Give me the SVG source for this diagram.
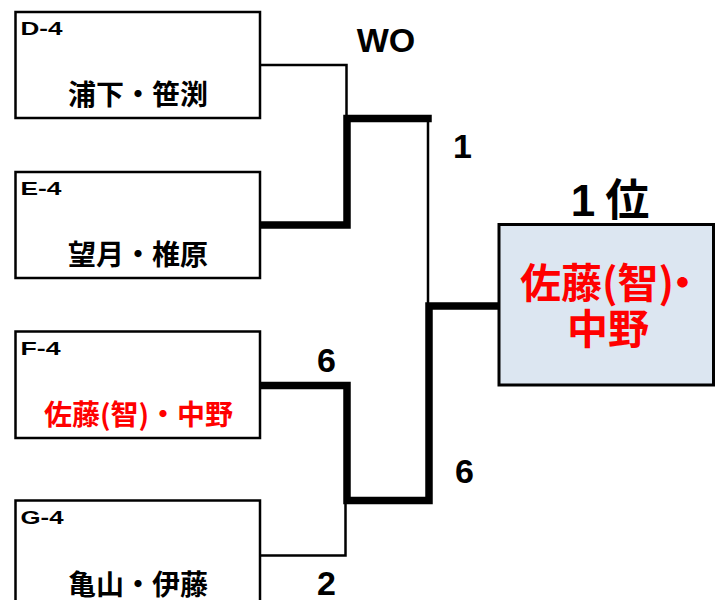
<svg xmlns="http://www.w3.org/2000/svg" width="723" height="600" viewBox="0 0 723 600">
<style>
.box{fill:#FFFFFF;stroke:#000000;stroke-width:2.5}
.champ{fill:#DCE6F1;stroke:#000000;stroke-width:3}
.lbl{font-family:"Liberation Sans","Noto Sans CJK JP",sans-serif;font-weight:bold;font-size:18px;fill:#000000}
.name{font-family:"Noto Sans CJK JP","Noto Sans CJK SC",sans-serif;font-weight:bold;font-size:28px;text-anchor:middle;fill:#000000}
.win{fill:#FF0000}
.score{font-family:"Liberation Sans","Noto Sans CJK JP",sans-serif;font-weight:bold;font-size:34px;text-anchor:middle;fill:#000000}
.thin{fill:none;stroke:#000000;stroke-width:2.5}
.thick{fill:none;stroke:#000000;stroke-width:7.5;stroke-linecap:square;stroke-linejoin:miter}
.big{font-family:"Noto Sans CJK JP","Noto Sans CJK SC",sans-serif;font-weight:bold;font-size:41px;fill:#FF0000}
.rank{font-family:"Liberation Sans","Noto Sans CJK JP",sans-serif;font-weight:bold;font-size:44px;text-anchor:middle;fill:#000000}
</style>
<rect width="723" height="600" fill="#FFFFFF"/>
<g id="connectors">
<path class="thin" d="M261,65 H346.5 V118"/>
<path class="thin" d="M428,118 V306"/>
<path class="thin" d="M261,555.5 H345.5 V500"/>
<path class="thick" d="M261,225 H347 V118.5 H428"/>
<path class="thick" d="M261,385.5 H347 V500.5 H429 V306 H497"/>
</g>
<g id="node-d4">
<rect class="box" x="15.5" y="12" width="244.5" height="106"/>
<text class="lbl" x="20.5" y="35" textLength="42" lengthAdjust="spacingAndGlyphs">D-4</text>
<text class="name" x="138" y="105">浦下・笹渕</text>
</g>
<g id="node-e4">
<rect class="box" x="15.5" y="172" width="244.5" height="106"/>
<text class="lbl" x="20.5" y="195" textLength="41" lengthAdjust="spacingAndGlyphs">E-4</text>
<text class="name" x="138" y="265">望月・椎原</text>
</g>
<g id="node-f4">
<rect class="box" x="15.5" y="331.5" width="244.5" height="106.5"/>
<text class="lbl" x="20.5" y="355" textLength="40" lengthAdjust="spacingAndGlyphs">F-4</text>
<text class="name win" x="138.5" y="425" font-size="29">佐藤(智)・中野</text>
</g>
<g id="node-g4">
<rect class="box" x="15.5" y="500.5" width="244.5" height="110"/>
<text class="lbl" x="20.5" y="524" textLength="43" lengthAdjust="spacingAndGlyphs">G-4</text>
<text class="name" x="138" y="595">亀山・伊藤</text>
</g>
<g id="scores">
<text class="score" x="386" y="52">WO</text>
<text class="score" x="462.5" y="158">1</text>
<text class="score" x="326.5" y="372">6</text>
<text class="score" x="464.5" y="483">6</text>
<text class="score" x="326.5" y="595">2</text>
</g>
<g id="node-champion">
<text class="rank" x="610" y="216">1<tspan dx="10">位</tspan></text>
<rect class="champ" x="499" y="224.5" width="214.5" height="160.5"/>
<text class="big" x="520" y="298">佐藤(智)<tspan dx="-12">・</tspan></text>
<text class="big" x="608" y="344" text-anchor="middle">中野</text>
</g>
</svg>
